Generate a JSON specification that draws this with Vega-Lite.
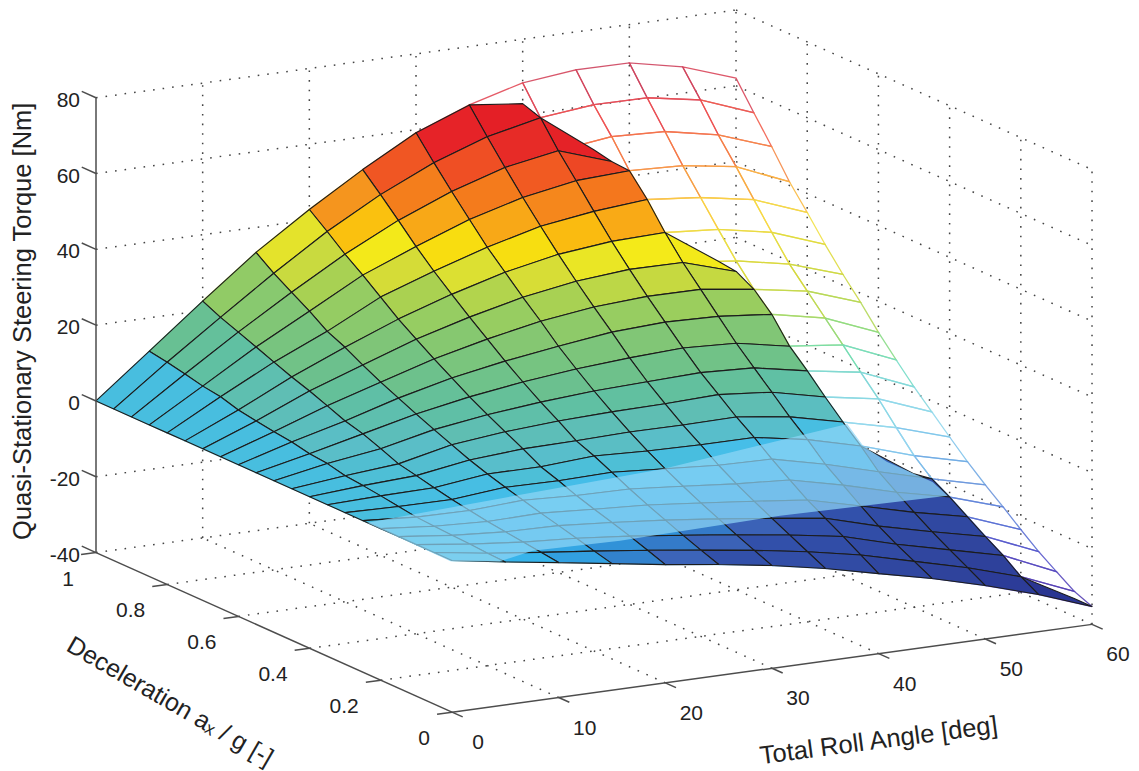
{"$schema":"https://vega.github.io/schema/vega-lite/v6.json","width":1139,"height":771,"autosize":{"type":"fit","contains":"padding"},"padding":0,"background":"white","config":{"view":{"stroke":null}},
"datasets":{
"surface":[
{"r":60,"d":1,"t":62,"w":1},{"r":60,"d":0.95,"t":55,"w":1},{"r":60,"d":0.9,"t":48.2,"w":1},{"r":60,"d":0.85,"t":41,"w":1},{"r":60,"d":0.8,"t":35,"w":1},{"r":60,"d":0.75,"t":28.7,"w":1},{"r":60,"d":0.7,"t":22.9,"w":1},{"r":60,"d":0.65,"t":17.6,"w":1},{"r":60,"d":0.6,"t":11.8,"w":1},{"r":60,"d":0.55,"t":6.6,"w":1},{"r":60,"d":0.5,"t":1.6,"w":1},{"r":60,"d":0.45,"t":-2.9,"w":1},{"r":60,"d":0.4,"t":-7.4,"w":1},{"r":60,"d":0.35,"t":-11.8,"w":1},{"r":60,"d":0.3,"t":-15.8,"w":1},{"r":60,"d":0.25,"t":-19.5,"w":1},{"r":60,"d":0.2,"t":-23.4,"w":1},{"r":60,"d":0.15,"t":-27.1,"w":1},{"r":60,"d":0.1,"t":-30.3,"w":1},{"r":60,"d":0.05,"t":-33.4,"s":-35.3},{"r":60,"d":0,"t":-35.3},
{"r":55,"d":1,"t":66.9,"w":1},{"r":55,"d":0.95,"t":60.3,"w":1},{"r":55,"d":0.9,"t":53.2,"w":1},{"r":55,"d":0.85,"t":46.9,"w":1},{"r":55,"d":0.8,"t":40.3,"w":1},{"r":55,"d":0.75,"t":33.8,"w":1},{"r":55,"d":0.7,"t":27.5,"w":1},{"r":55,"d":0.65,"t":22.5,"w":1},{"r":55,"d":0.6,"t":17.5,"w":1},{"r":55,"d":0.55,"t":12.5,"w":1},{"r":55,"d":0.5,"t":7.4,"w":1},{"r":55,"d":0.45,"t":2.5,"w":1},{"r":55,"d":0.4,"t":-3,"w":1},{"r":55,"d":0.35,"t":-8.3,"s":-13.1},{"r":55,"d":0.3,"t":-12.3},{"r":55,"d":0.25,"t":-15},{"r":55,"d":0.2,"t":-18.1},{"r":55,"d":0.15,"t":-21.2},{"r":55,"d":0.1,"t":-24.1},{"r":55,"d":0.05,"t":-27.6},{"r":55,"d":0,"t":-30.2},
{"r":50,"d":1,"t":69.9,"w":1},{"r":50,"d":0.95,"t":62.8,"w":1},{"r":50,"d":0.9,"t":56,"w":1},{"r":50,"d":0.85,"t":49.1,"w":1},{"r":50,"d":0.8,"t":42.8,"w":1},{"r":50,"d":0.75,"t":36.5,"s":28.1},{"r":50,"d":0.7,"t":30.3,"s":27.5},{"r":50,"d":0.65,"t":24.9},{"r":50,"d":0.6,"t":20.4},{"r":50,"d":0.55,"t":14.1},{"r":50,"d":0.5,"t":9.7},{"r":50,"d":0.45,"t":4.9},{"r":50,"d":0.4,"t":0.4},{"r":50,"d":0.35,"t":-3.8},{"r":50,"d":0.3,"t":-8.5},{"r":50,"d":0.25,"t":-11.8},{"r":50,"d":0.2,"t":-15},{"r":50,"d":0.15,"t":-18},{"r":50,"d":0.1,"t":-20.7},{"r":50,"d":0.05,"t":-23.3},{"r":50,"d":0,"t":-25.9},
{"r":45,"d":1,"t":70,"w":1},{"r":45,"d":0.95,"t":62.9,"s":51},{"r":45,"d":0.9,"t":56.6,"s":50},{"r":45,"d":0.85,"t":49.7},{"r":45,"d":0.8,"t":44.2},{"r":45,"d":0.75,"t":37.6},{"r":45,"d":0.7,"t":31.8},{"r":45,"d":0.65,"t":26.8},{"r":45,"d":0.6,"t":21.8},{"r":45,"d":0.55,"t":16.8},{"r":45,"d":0.5,"t":12.4},{"r":45,"d":0.45,"t":8.1},{"r":45,"d":0.4,"t":3.7},{"r":45,"d":0.35,"t":-0.2},{"r":45,"d":0.3,"t":-4.6},{"r":45,"d":0.25,"t":-8},{"r":45,"d":0.2,"t":-11.4},{"r":45,"d":0.15,"t":-14.6},{"r":45,"d":0.1,"t":-17.3},{"r":45,"d":0.05,"t":-19.7},{"r":45,"d":0,"t":-22.1},
{"r":40,"d":1,"t":68.5,"s":63},{"r":40,"d":0.95,"t":61.4},{"r":40,"d":0.9,"t":54.8},{"r":40,"d":0.85,"t":49},{"r":40,"d":0.8,"t":43},{"r":40,"d":0.75,"t":37.2},{"r":40,"d":0.7,"t":31.9},{"r":40,"d":0.65,"t":26.9},{"r":40,"d":0.6,"t":22.2},{"r":40,"d":0.55,"t":17.5},{"r":40,"d":0.5,"t":13.1},{"r":40,"d":0.45,"t":9.4},{"r":40,"d":0.4,"t":5.6},{"r":40,"d":0.35,"t":2.3},{"r":40,"d":0.3,"t":-1.3},{"r":40,"d":0.25,"t":-4.7},{"r":40,"d":0.2,"t":-7.9},{"r":40,"d":0.15,"t":-10.6},{"r":40,"d":0.1,"t":-13.3},{"r":40,"d":0.05,"t":-16.1},{"r":40,"d":0,"t":-18.9},
{"r":35,"d":1,"t":64.6},{"r":35,"d":0.95,"t":58.3},{"r":35,"d":0.9,"t":52.3},{"r":35,"d":0.85,"t":46.5},{"r":35,"d":0.8,"t":41},{"r":35,"d":0.75,"t":35.7},{"r":35,"d":0.7,"t":30.7},{"r":35,"d":0.65,"t":26},{"r":35,"d":0.6,"t":21.5},{"r":35,"d":0.55,"t":16.8},{"r":35,"d":0.5,"t":12.6},{"r":35,"d":0.45,"t":8.9},{"r":35,"d":0.4,"t":5.4},{"r":35,"d":0.35,"t":2.3},{"r":35,"d":0.3,"t":-1},{"r":35,"d":0.25,"t":-3.8},{"r":35,"d":0.2,"t":-6.3},{"r":35,"d":0.15,"t":-8.7},{"r":35,"d":0.1,"t":-11},{"r":35,"d":0.05,"t":-13.3},{"r":35,"d":0,"t":-15.6},
{"r":30,"d":1,"t":59.2},{"r":30,"d":0.95,"t":53.4},{"r":30,"d":0.9,"t":47.9},{"r":30,"d":0.85,"t":42.6},{"r":30,"d":0.8,"t":37.4},{"r":30,"d":0.75,"t":32.9},{"r":30,"d":0.7,"t":28.4},{"r":30,"d":0.65,"t":24.2},{"r":30,"d":0.6,"t":19.7},{"r":30,"d":0.55,"t":15.8},{"r":30,"d":0.5,"t":12.1},{"r":30,"d":0.45,"t":8.7},{"r":30,"d":0.4,"t":5.5},{"r":30,"d":0.35,"t":2.6},{"r":30,"d":0.3,"t":0},{"r":30,"d":0.25,"t":-2.5},{"r":30,"d":0.2,"t":-4.8},{"r":30,"d":0.15,"t":-6.9},{"r":30,"d":0.1,"t":-9},{"r":30,"d":0.05,"t":-11},{"r":30,"d":0,"t":-12.9},
{"r":25,"d":1,"t":51.4},{"r":25,"d":0.95,"t":46.9},{"r":25,"d":0.9,"t":42.2},{"r":25,"d":0.85,"t":37.4},{"r":25,"d":0.8,"t":33},{"r":25,"d":0.75,"t":29},{"r":25,"d":0.7,"t":25.1},{"r":25,"d":0.65,"t":21.4},{"r":25,"d":0.6,"t":17.7},{"r":25,"d":0.55,"t":14.3},{"r":25,"d":0.5,"t":11.1},{"r":25,"d":0.45,"t":8.2},{"r":25,"d":0.4,"t":5.1},{"r":25,"d":0.35,"t":3.2},{"r":25,"d":0.3,"t":1},{"r":25,"d":0.25,"t":-1.3},{"r":25,"d":0.2,"t":-3.4},{"r":25,"d":0.15,"t":-5.3},{"r":25,"d":0.1,"t":-7.2},{"r":25,"d":0.05,"t":-9},{"r":25,"d":0,"t":-10.7},
{"r":20,"d":1,"t":42.8},{"r":20,"d":0.95,"t":39.1},{"r":20,"d":0.9,"t":35.2},{"r":20,"d":0.85,"t":31.8},{"r":20,"d":0.8,"t":28.1},{"r":20,"d":0.75,"t":24.4},{"r":20,"d":0.7,"t":21.2},{"r":20,"d":0.65,"t":18.1},{"r":20,"d":0.6,"t":15.2},{"r":20,"d":0.55,"t":12.3},{"r":20,"d":0.5,"t":9.7},{"r":20,"d":0.45,"t":7.3},{"r":20,"d":0.4,"t":4.9},{"r":20,"d":0.35,"t":2.3},{"r":20,"d":0.3,"t":0.7},{"r":20,"d":0.25,"t":-1.1},{"r":20,"d":0.2,"t":-2.6},{"r":20,"d":0.15,"t":-4},{"r":20,"d":0.1,"t":-5.5},{"r":20,"d":0.05,"t":-7.1},{"r":20,"d":0,"t":-8.8},
{"r":15,"d":1,"t":33.4},{"r":15,"d":0.95,"t":30},{"r":15,"d":0.9,"t":27.1},{"r":15,"d":0.85,"t":24.2},{"r":15,"d":0.8,"t":21},{"r":15,"d":0.75,"t":18.9},{"r":15,"d":0.7,"t":16.3},{"r":15,"d":0.65,"t":13.9},{"r":15,"d":0.6,"t":11.8},{"r":15,"d":0.55,"t":9.7},{"r":15,"d":0.5,"t":7.7},{"r":15,"d":0.45,"t":5.8},{"r":15,"d":0.4,"t":3.9},{"r":15,"d":0.35,"t":2.3},{"r":15,"d":0.3,"t":0.9},{"r":15,"d":0.25,"t":-0.4},{"r":15,"d":0.2,"t":-1.7},{"r":15,"d":0.15,"t":-2.9},{"r":15,"d":0.1,"t":-4.1},{"r":15,"d":0.05,"t":-5.4},{"r":15,"d":0,"t":-6.6},
{"r":10,"d":1,"t":22.5},{"r":10,"d":0.95,"t":20.3},{"r":10,"d":0.9,"t":18.5},{"r":10,"d":0.85,"t":16.7},{"r":10,"d":0.8,"t":14.8},{"r":10,"d":0.75,"t":13},{"r":10,"d":0.7,"t":11.4},{"r":10,"d":0.65,"t":9.6},{"r":10,"d":0.6,"t":7.7},{"r":10,"d":0.55,"t":6.4},{"r":10,"d":0.5,"t":4.6},{"r":10,"d":0.45,"t":2.7},{"r":10,"d":0.4,"t":1.7},{"r":10,"d":0.35,"t":0.6},{"r":10,"d":0.3,"t":-0.4},{"r":10,"d":0.25,"t":-1.2},{"r":10,"d":0.2,"t":-2},{"r":10,"d":0.15,"t":-2.6},{"r":10,"d":0.1,"t":-3.2},{"r":10,"d":0.05,"t":-3.8},{"r":10,"d":0,"t":-4.4},
{"r":5,"d":1,"t":11.2},{"r":5,"d":0.95,"t":10.4},{"r":5,"d":0.9,"t":9.4},{"r":5,"d":0.85,"t":8.3},{"r":5,"d":0.8,"t":7.6},{"r":5,"d":0.75,"t":6.2},{"r":5,"d":0.7,"t":5.4},{"r":5,"d":0.65,"t":4.7},{"r":5,"d":0.6,"t":4.1},{"r":5,"d":0.55,"t":3.1},{"r":5,"d":0.5,"t":2.6},{"r":5,"d":0.45,"t":1.5},{"r":5,"d":0.4,"t":1},{"r":5,"d":0.35,"t":0.4},{"r":5,"d":0.3,"t":-0.3},{"r":5,"d":0.25,"t":-1},{"r":5,"d":0.2,"t":-1.3},{"r":5,"d":0.15,"t":-1.6},{"r":5,"d":0.1,"t":-1.8},{"r":5,"d":0.05,"t":-2.1},{"r":5,"d":0,"t":-2.3},
{"r":0,"d":1,"t":0},{"r":0,"d":0.95,"t":0},{"r":0,"d":0.9,"t":0},{"r":0,"d":0.85,"t":0},{"r":0,"d":0.8,"t":0},{"r":0,"d":0.75,"t":0},{"r":0,"d":0.7,"t":0},{"r":0,"d":0.65,"t":0},{"r":0,"d":0.6,"t":0},{"r":0,"d":0.55,"t":0},{"r":0,"d":0.5,"t":0},{"r":0,"d":0.45,"t":0},{"r":0,"d":0.4,"t":0},{"r":0,"d":0.35,"t":0},{"r":0,"d":0.3,"t":0},{"r":0,"d":0.25,"t":0},{"r":0,"d":0.2,"t":0},{"r":0,"d":0.15,"t":0},{"r":0,"d":0.1,"t":0},{"r":0,"d":0.05,"t":0},{"r":0,"d":0,"t":0}
],
"band":[
{"o":0,"r":0.4,"d":0.25,"t":-0.7},{"o":1,"r":28.1,"d":0.25,"t":2.8},{"o":2,"r":45.4,"d":0.25,"t":8},{"o":3,"r":46.9,"d":0.25,"t":1.6},{"o":4,"r":49.1,"d":0.25,"t":-3.4},{"o":5,"r":51.6,"d":0.25,"t":-7.5},{"o":6,"r":53.4,"d":0.25,"t":-10.4},{"o":7,"r":54.8,"d":0.25,"t":-14.6},{"o":8,"r":39.1,"d":0.25,"t":-13.8},{"o":9,"r":24.1,"d":0.25,"t":-14.6},{"o":10,"r":15.9,"d":0.25,"t":-14.1},{"o":11,"r":12.8,"d":0.25,"t":-15.7},{"o":12,"r":8.2,"d":0.25,"t":-13.9},{"o":13,"r":0.4,"d":0.25,"t":-0.7}
],
"grid":[
{"g":"a10","r":[10,10],"d":[0,1],"t":[-40,-40]},{"g":"a20","r":[20,20],"d":[0,1],"t":[-40,-40]},{"g":"a30","r":[30,30],"d":[0,1],"t":[-40,-40]},{"g":"a40","r":[40,40],"d":[0,1],"t":[-40,-40]},{"g":"a50","r":[50,50],"d":[0,1],"t":[-40,-40]},{"g":"a60","r":[60,60],"d":[0,1],"t":[-40,-40]},
{"g":"b2","r":[0,60],"d":[0.2,0.2],"t":[-40,-40]},{"g":"b4","r":[0,60],"d":[0.4,0.4],"t":[-40,-40]},{"g":"b6","r":[0,60],"d":[0.6,0.6],"t":[-40,-40]},{"g":"b8","r":[0,60],"d":[0.8,0.8],"t":[-40,-40]},{"g":"b10","r":[0,60],"d":[1,1],"t":[-40,-40]},
{"g":"c10","r":[10,10],"d":[1,1],"t":[-40,80]},{"g":"c20","r":[20,20],"d":[1,1],"t":[-40,80]},{"g":"c30","r":[30,30],"d":[1,1],"t":[-40,80]},{"g":"c40","r":[40,40],"d":[1,1],"t":[-40,80]},{"g":"c50","r":[50,50],"d":[1,1],"t":[-40,80]},{"g":"c60","r":[60,60],"d":[1,1],"t":[-40,80]},
{"g":"e1","r":[0,60],"d":[1,1],"t":[-20,-20]},{"g":"e2","r":[0,60],"d":[1,1],"t":[0,0]},{"g":"e3","r":[0,60],"d":[1,1],"t":[20,20]},{"g":"e4","r":[0,60],"d":[1,1],"t":[40,40]},{"g":"e5","r":[0,60],"d":[1,1],"t":[60,60]},{"g":"e6","r":[0,60],"d":[1,1],"t":[80,80]},
{"g":"f8","r":[60,60],"d":[0.8,0.8],"t":[-40,80]},{"g":"f6","r":[60,60],"d":[0.6,0.6],"t":[-40,80]},{"g":"f4","r":[60,60],"d":[0.4,0.4],"t":[-40,80]},{"g":"f2","r":[60,60],"d":[0.2,0.2],"t":[-40,80]},{"g":"f0","r":[60,60],"d":[0,0],"t":[-40,80]},
{"g":"h1","r":[60,60],"d":[1,0],"t":[-20,-20]},{"g":"h2","r":[60,60],"d":[1,0],"t":[0,0]},{"g":"h3","r":[60,60],"d":[1,0],"t":[20,20]},{"g":"h4","r":[60,60],"d":[1,0],"t":[40,40]},{"g":"h5","r":[60,60],"d":[1,0],"t":[60,60]},{"g":"h6","r":[60,60],"d":[1,0],"t":[80,80]}
],
"axes":[
{"g":"z","r":[0,0],"d":[1,1],"t":[-40,80]},{"g":"dx","r":[0,0],"d":[0,1],"t":[-40,-40]},{"g":"rx","r":[0,60],"d":[0,0],"t":[-40,-40]},
{"g":"z1","r":[0,0],"d":[1,1.04],"t":[-40,-40]},{"g":"z2","r":[0,0],"d":[1,1.04],"t":[-20,-20]},{"g":"z3","r":[0,0],"d":[1,1.04],"t":[0,0]},{"g":"z4","r":[0,0],"d":[1,1.04],"t":[20,20]},{"g":"z5","r":[0,0],"d":[1,1.04],"t":[40,40]},{"g":"z6","r":[0,0],"d":[1,1.04],"t":[60,60]},{"g":"z7","r":[0,0],"d":[1,1.04],"t":[80,80]},
{"g":"r0","r":[0,0],"d":[0,-0.03],"t":[-40,-40]},{"g":"r1","r":[10,10],"d":[0,-0.03],"t":[-40,-40]},{"g":"r2","r":[20,20],"d":[0,-0.03],"t":[-40,-40]},{"g":"r3","r":[30,30],"d":[0,-0.03],"t":[-40,-40]},{"g":"r4","r":[40,40],"d":[0,-0.03],"t":[-40,-40]},{"g":"r5","r":[50,50],"d":[0,-0.03],"t":[-40,-40]},{"g":"r6","r":[60,60],"d":[0,-0.03],"t":[-40,-40]},
{"g":"d0","r":[0,-1.4],"d":[0,0],"t":[-40,-40]},{"g":"d2","r":[0,-1.4],"d":[0.2,0.2],"t":[-40,-40]},{"g":"d4","r":[0,-1.4],"d":[0.4,0.4],"t":[-40,-40]},{"g":"d6","r":[0,-1.4],"d":[0.6,0.6],"t":[-40,-40]},{"g":"d8","r":[0,-1.4],"d":[0.8,0.8],"t":[-40,-40]},{"g":"d10","r":[0,-1.4],"d":[1,1],"t":[-40,-40]}
]},
"encoding":{"x":{"field":"X","type":"quantitative","axis":null,"scale":{"domain":[0,1139],"nice":false,"zero":false}},"y":{"field":"Y","type":"quantitative","axis":null,"scale":{"domain":[771,0],"nice":false,"zero":false}}},
"layer":[
{"data":{"name":"grid"},"transform":[{"flatten":["r","d","t"]},{"calculate":"452+datum.r*10.667-datum.d*356","as":"X"},{"calculate":"714-datum.r*1.4667-datum.d*160-(datum.t+40)*3.8","as":"Y"}],"mark":{"type":"line","stroke":"#444444","strokeWidth":1.5,"strokeDash":[1.6,8]},"encoding":{"detail":{"field":"g"},"order":{"field":"t"}}},
{"data":{"name":"surface"},"transform":[{"calculate":"[0,1,2,3,4]","as":"k"},{"flatten":["k"]},{"calculate":"datum.r-((datum.k==1||datum.k==2)?5:0)","as":"cr"},{"calculate":"round(datum.d*20)-((datum.k==2||datum.k==3)?1:0)","as":"cd"},{"calculate":"datum.cr*100+datum.cd","as":"cell"},{"calculate":"datum.k==0?datum.t:null","as":"base"},{"joinaggregate":[{"op":"count","as":"n"},{"op":"max","field":"base","as":"c"}],"groupby":["cell"]},{"filter":"datum.n==5"},{"calculate":"452+datum.r*10.667-datum.d*356","as":"X"},{"calculate":"714-datum.r*1.4667-datum.d*160-(datum.t+40)*3.8","as":"Y"}],"mark":{"type":"line","strokeWidth":1.3,"opacity":0.9},"encoding":{"detail":{"field":"cell"},"order":{"field":"k"},"stroke":{"field":"c","type":"quantitative","legend":null,"scale":{"domain":[-35,-25,-15,-5,5,15,25,35,45,55,65],"range":["#50309f","#5a50c8","#6e96dc","#96d7f0","#82d7d7","#aad764","#d7d73c","#f5e146","#f59646","#f05050","#c3415f"]}}}},
{"data":{"name":"surface"},"transform":[{"calculate":"[0,1,2,3,4]","as":"k"},{"flatten":["k"]},{"calculate":"datum.r-((datum.k==1||datum.k==2)?5:0)","as":"cr"},{"calculate":"round(datum.d*20)-((datum.k==2||datum.k==3)?1:0)","as":"cd"},{"calculate":"datum.cr*100+datum.cd","as":"cell"},{"calculate":"isValid(datum.s)?datum.s:datum.t","as":"z"},{"calculate":"datum.w||0","as":"wo"},{"calculate":"datum.k==0?datum.z:null","as":"base"},{"joinaggregate":[{"op":"count","as":"n"},{"op":"sum","field":"wo","as":"ws"},{"op":"max","field":"base","as":"c"}],"groupby":["cell"]},{"filter":"datum.n==5&&datum.ws==0"},{"calculate":"452+datum.r*10.667-datum.d*356","as":"X"},{"calculate":"714-datum.r*1.4667-datum.d*160-(datum.z+40)*3.8","as":"Y"}],"mark":{"type":"line","stroke":"#1c1c1c","strokeWidth":1.1,"strokeJoin":"round"},"encoding":{"detail":{"field":"cell"},"order":{"field":"k"},"fill":{"field":"c","type":"quantitative","legend":null,"scale":{"domain":[-35,-20,-10.7,-8.8,-6.6,-4.4,-2.3,-1,2.6,5.4,11,17,24,28,32,35,39,47,53,65],"range":["#282d8c","#30469f","#3250aa","#3c64b9","#3282cd","#32a0e1","#37b4eb","#46bee8","#5abec8","#5fbeb4","#6bc08f","#82c675","#a6d054","#d4dc38","#f5ea18","#fac30f","#f5961e","#f05523","#e62328","#e11923"]}}}},
{"data":{"name":"band"},"transform":[{"calculate":"452+datum.r*10.667-datum.d*356","as":"X"},{"calculate":"714-datum.r*1.4667-datum.d*160-(datum.t+40)*3.8","as":"Y"}],"mark":{"type":"line","stroke":null,"fill":"#8fd6f5","fillOpacity":0.72},"encoding":{"order":{"field":"o"}}},
{"data":{"name":"axes"},"transform":[{"flatten":["r","d","t"]},{"calculate":"452+datum.r*10.667-datum.d*356","as":"X"},{"calculate":"714-datum.r*1.4667-datum.d*160-(datum.t+40)*3.8","as":"Y"}],"mark":{"type":"line","stroke":"#4d4d4d","strokeWidth":1.5},"encoding":{"detail":{"field":"g"}}},
{"data":{"values":[{"r":0,"d":1,"t":-40,"label":"-40"},{"r":0,"d":1,"t":-20,"label":"-20"},{"r":0,"d":1,"t":0,"label":"0"},{"r":0,"d":1,"t":20,"label":"20"},{"r":0,"d":1,"t":40,"label":"40"},{"r":0,"d":1,"t":60,"label":"60"},{"r":0,"d":1,"t":80,"label":"80"}]},"transform":[{"calculate":"452+datum.r*10.667-datum.d*356","as":"X"},{"calculate":"714-datum.r*1.4667-datum.d*160-(datum.t+40)*3.8","as":"Y"}],"mark":{"type":"text","font":"Liberation Sans","fontSize":21,"fill":"#222","align":"right","baseline":"middle","dx":-16,"dy":3},"encoding":{"text":{"field":"label"}}},
{"data":{"values":[{"r":0,"d":0,"t":-40,"label":"0"},{"r":10,"d":0,"t":-40,"label":"10"},{"r":20,"d":0,"t":-40,"label":"20"},{"r":30,"d":0,"t":-40,"label":"30"},{"r":40,"d":0,"t":-40,"label":"40"},{"r":50,"d":0,"t":-40,"label":"50"},{"r":60,"d":0,"t":-40,"label":"60"}]},"transform":[{"calculate":"452+datum.r*10.667-datum.d*356","as":"X"},{"calculate":"714-datum.r*1.4667-datum.d*160-(datum.t+40)*3.8","as":"Y"}],"mark":{"type":"text","font":"Liberation Sans","fontSize":21,"fill":"#222","align":"center","baseline":"middle","dx":26,"dy":31},"encoding":{"text":{"field":"label"}}},
{"data":{"values":[{"r":0,"d":0,"t":-40,"label":"0"},{"r":0,"d":0.2,"t":-40,"label":"0.2"},{"r":0,"d":0.4,"t":-40,"label":"0.4"},{"r":0,"d":0.6,"t":-40,"label":"0.6"},{"r":0,"d":0.8,"t":-40,"label":"0.8"},{"r":0,"d":1,"t":-40,"label":"1"}]},"transform":[{"calculate":"452+datum.r*10.667-datum.d*356","as":"X"},{"calculate":"714-datum.r*1.4667-datum.d*160-(datum.t+40)*3.8","as":"Y"}],"mark":{"type":"text","font":"Liberation Sans","fontSize":21,"fill":"#222","align":"right","baseline":"middle","dx":-22,"dy":27},"encoding":{"text":{"field":"label"}}},
{"data":{"values":[{"r":0,"d":1,"t":21,"label":"Quasi-Stationary Steering Torque [Nm]"}]},"transform":[{"calculate":"452+datum.r*10.667-datum.d*356","as":"X"},{"calculate":"714-datum.r*1.4667-datum.d*160-(datum.t+40)*3.8","as":"Y"}],"mark":{"type":"text","font":"Liberation Sans","fontSize":25.5,"fill":"#222","align":"center","baseline":"middle","angle":270,"dx":0,"dy":-73},"encoding":{"text":{"field":"label"}}},
{"data":{"values":[{"r":0,"d":0.5,"t":-40,"label":"Deceleration aₓ / g [-]"}]},"transform":[{"calculate":"452+datum.r*10.667-datum.d*356","as":"X"},{"calculate":"714-datum.r*1.4667-datum.d*160-(datum.t+40)*3.8","as":"Y"}],"mark":{"type":"text","font":"Liberation Sans","fontSize":25,"fill":"#222","align":"center","baseline":"middle","angle":30,"dx":-55.6,"dy":111.8},"encoding":{"text":{"field":"label"}}},
{"data":{"values":[{"r":40,"d":0,"t":-40,"label":"Total Roll Angle [deg]"}]},"transform":[{"calculate":"452+datum.r*10.667-datum.d*356","as":"X"},{"calculate":"714-datum.r*1.4667-datum.d*160-(datum.t+40)*3.8","as":"Y"}],"mark":{"type":"text","font":"Liberation Sans","fontSize":25.5,"fill":"#222","align":"center","baseline":"middle","angle":352.5,"dx":-11.4,"dy":86.3},"encoding":{"text":{"field":"label"}}}
]}
